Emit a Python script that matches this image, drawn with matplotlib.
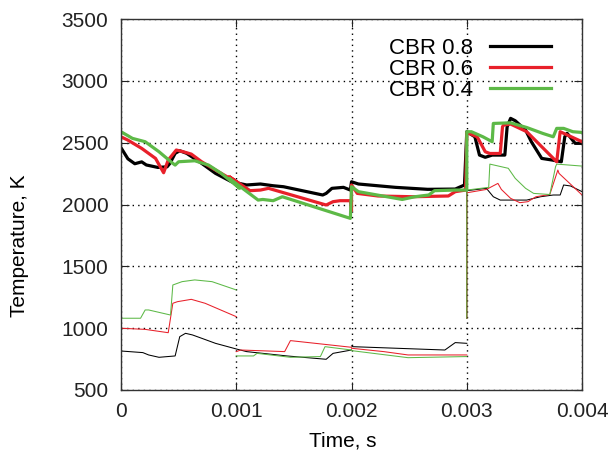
import matplotlib
matplotlib.use("Agg")
import matplotlib.pyplot as plt
import numpy as np

plt.rcParams['font.family'] = ['Liberation Sans', 'DejaVu Sans']

# thick lines (CBR series)
t08 = [0, 0.00006, 0.00012, 0.00018, 0.00022, 0.00032, 0.0004, 0.000425, 0.00047, 0.00051,
       0.00057, 0.0007, 0.00082, 0.00096, 0.00109, 0.00121, 0.00132, 0.00141, 0.00175, 0.00178,
       0.00183, 0.00193, 0.00199, 0.002, 0.00206, 0.00238, 0.00266, 0.0029, 0.00298, 0.003,
       0.00307, 0.00311, 0.00316, 0.00322, 0.00333, 0.00335, 0.00338, 0.00342, 0.00351, 0.00356,
       0.00365, 0.00374, 0.00382, 0.00385, 0.00387, 0.00394, 0.004]
T08 = [2460, 2370, 2330, 2345, 2320, 2300, 2305, 2333, 2414, 2435,
       2414, 2333, 2252, 2184, 2158, 2166, 2152, 2144, 2077, 2090,
       2131, 2139, 2117, 2184, 2166, 2139, 2123, 2125, 2158, 2589,
       2548, 2400, 2382, 2400, 2400, 2629, 2697, 2678, 2602, 2508,
       2373, 2360, 2346, 2548, 2576, 2495, 2495]

t06 = [0, 0.00006, 0.00018, 0.0003, 0.00037, 0.00041, 0.00048, 0.00054, 0.00061, 0.0007,
       0.00082, 0.00102, 0.00094, 0.00112, 0.00121, 0.00128, 0.00138, 0.00178, 0.00184, 0.0019,
       0.00199, 0.002, 0.002, 0.00205, 0.00223, 0.00253, 0.00284, 0.0029, 0.00299, 0.003,
       0.00309, 0.00316, 0.0032, 0.00329, 0.00331, 0.00332, 0.00338, 0.00352, 0.00378, 0.00381,
       0.00384, 0.004]
T06 = [2548, 2521, 2454, 2373, 2257, 2360, 2441, 2427, 2408, 2346,
       2279, 2171, 2225, 2112, 2117, 2131, 2104, 1996, 2023, 2031,
       2031, 1950, 2158, 2090, 2069, 2063, 2069, 2104, 2117, 2583,
       2548, 2427, 2413, 2413, 2629, 2643, 2651, 2589, 2346, 2589,
       2576, 2508]

t04 = [0, 0.0001, 0.00021, 0.00033, 0.00045, 0.00047, 0.0005, 0.00064, 0.00076, 0.00087,
       0.00103, 0.00094, 0.00119, 0.00123, 0.00132, 0.0014, 0.00199, 0.002, 0.00206, 0.00244,
       0.00255, 0.00267, 0.00272, 0.0029, 0.003, 0.003, 0.00304, 0.00314, 0.00322, 0.00323,
       0.00338, 0.00352, 0.00366, 0.00375, 0.00378, 0.00384, 0.00392, 0.004]
T04 = [2589, 2535, 2508, 2427, 2333, 2319, 2346, 2354, 2319, 2252,
       2131, 2211, 2036, 2041, 2031, 2063, 1888, 2144, 2104, 2041,
       2063, 2077, 2112, 2117, 2117, 2589, 2589, 2548, 2508, 2656,
       2661, 2623, 2575, 2548, 2616, 2616, 2589, 2583]

# thin lines, one list of segments per series
thin08 = [
    ([0, 0.00019, 0.00024, 0.00033, 0.00047, 0.00051, 0.00056, 0.00062, 0.0007, 0.00082,
      0.00101, 0.00109, 0.00144, 0.00178, 0.00184, 0.002],
     [815, 802, 783, 764, 775, 931, 958, 945, 918, 877,
      829, 810, 775, 748, 796, 823]),
    ([0.002, 0.00201, 0.00281, 0.0029, 0.003],
     [856, 850, 823, 883, 877]),
    ([0.003, 0.003, 0.00317, 0.00323, 0.00329, 0.00352, 0.00364, 0.00375, 0.00381, 0.00384,
      0.0039, 0.004],
     [1080, 2112, 2131, 2063, 2036, 2036, 2063, 2077, 2077, 2158, 2150, 2104]),
]
thin06 = [
    ([0, 0.00021, 0.00041, 0.00045, 0.00049, 0.00061, 0.00073, 0.001],
     [999, 990, 963, 1201, 1214, 1233, 1201, 1093]),
    ([0.001, 0.00104, 0.00142, 0.00147, 0.002],
     [810, 823, 810, 899, 845]),
    ([0.002, 0.00228, 0.00249, 0.003],
     [837, 810, 783, 783]),
    ([0.003, 0.003, 0.00317, 0.00327, 0.0033, 0.00338, 0.00346, 0.00353, 0.0036, 0.00372,
      0.00379, 0.0038, 0.004],
     [1080, 2095, 2122, 2171, 2122, 2050, 2015, 2023, 2063, 2081,
      2279, 2252, 2077]),
]
thin04 = [
    ([0, 0.00017, 0.00021, 0.00024, 0.00043, 0.00045, 0.00053, 0.00064, 0.00079, 0.001],
     [1080, 1080, 1147, 1147, 1106, 1349, 1376, 1390, 1376, 1309]),
    ([0.001, 0.00115, 0.00118, 0.00147, 0.00173, 0.00177, 0.002],
     [775, 775, 796, 764, 770, 850, 823]),
    ([0.002, 0.00249, 0.003],
     [818, 761, 770]),
    ([0.003, 0.003, 0.00319, 0.0032, 0.00336, 0.00342, 0.00351, 0.00358, 0.00372, 0.00377,
      0.00378, 0.004],
     [1080, 2117, 2139, 2327, 2293, 2212, 2131, 2090, 2081, 2306, 2327, 2311]),
]

black = 'black'
red = '#e8202a'
green = '#5db947'

fig = plt.figure(figsize=(6.14, 4.55), dpi=100)
ax = fig.add_axes([0.197, 0.143, 0.751, 0.815])

for segs, c in [(thin08, black), (thin06, red), (thin04, green)]:
    for ts, Ts in segs:
        ax.plot(ts, Ts, color=c, linewidth=0.75)

ax.plot(t08, T08, color=black, linewidth=2.3, label='CBR 0.8')
ax.plot(t06, T06, color=red, linewidth=2.3, label='CBR 0.6')
ax.plot(t04, T04, color=green, linewidth=2.3, label='CBR 0.4')

ax.set_xlim(0, 0.004)
ax.set_ylim(500, 3500)
ax.set_xticks([0, 0.001, 0.002, 0.003, 0.004])
ax.set_xticklabels(['0', '0.001', '0.002', '0.003', '0.004'])
ax.set_yticks(range(500, 3501, 500))
ax.tick_params(direction='in', length=6, width=0.8, top=True, right=True,
               labelsize=15, pad=9, colors='#222222')
ax.grid(True, linestyle=(0, (1, 3)), linewidth=1.0, color='black')
for s in ax.spines.values():
    s.set_linewidth(1.0)
    s.set_color('#333333')

ax.set_xlabel('Time, s', fontsize=15)
ax.set_ylabel('Temperature, K', fontsize=15)
ax.xaxis.set_label_coords(0.48, -0.112)
ax.yaxis.set_label_coords(-0.2, 0.39)

leg = ax.legend(loc='upper right', bbox_to_anchor=(0.962, 0.985), frameon=False,
                markerfirst=False, fontsize=16, handlelength=2.75, handletextpad=0.75,
                labelspacing=0.0, borderaxespad=0.2)

plt.savefig('out.png', dpi=100)
